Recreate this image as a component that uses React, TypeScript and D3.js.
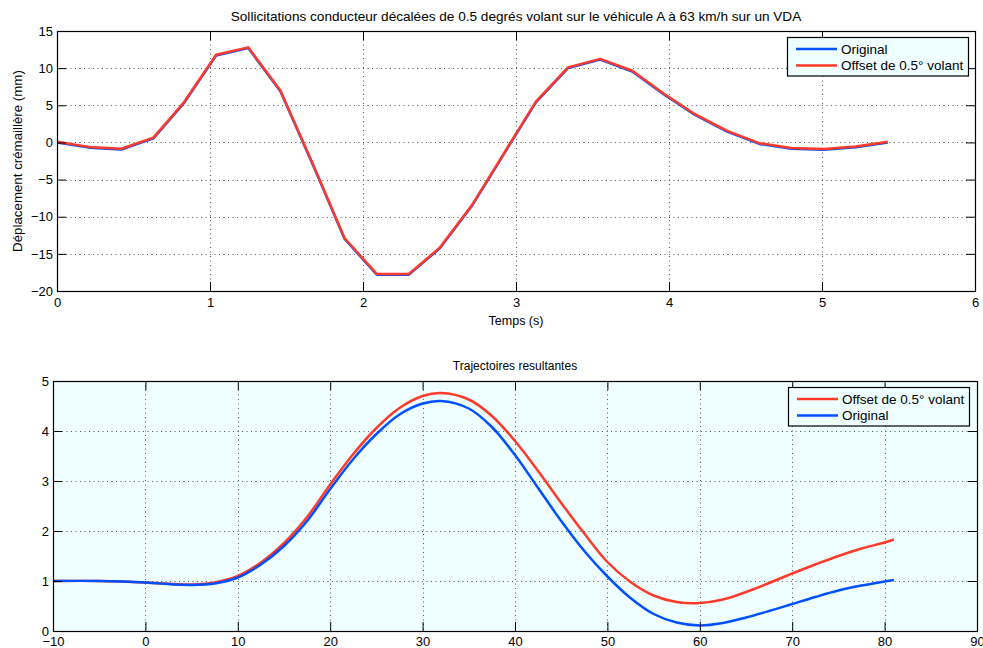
import React, { useEffect, useRef } from "react";
import * as d3 from "d3";

// top panel: rack displacement vs time
const TIME = [0, 0.21, 0.42, 0.63, 0.83, 1.04, 1.25, 1.46, 1.67, 1.88, 2.09, 2.3, 2.5, 2.71,
  2.92, 3.13, 3.34, 3.55, 3.76, 3.96, 4.17, 4.38, 4.59, 4.8, 5.01, 5.22, 5.43];
const RACK_ORIGINAL = [0, -0.7, -0.95, 0.55, 5.3, 11.7, 12.7, 6.9, -2.9, -13.0, -17.8, -17.8, -14.3,
  -8.6, -1.6, 5.4, 10.0, 11.15, 9.55, 6.55, 3.7, 1.45, -0.2, -0.85, -1.0, -0.65, 0.0];
const RACK_OFFSET = [0.08, -0.6, -0.85, 0.65, 5.4, 11.8, 12.8, 7.0, -2.8, -12.9, -17.7, -17.7, -14.2,
  -8.5, -1.5, 5.5, 10.1, 11.25, 9.65, 6.65, 3.8, 1.55, -0.1, -0.75, -0.9, -0.55, 0.08];

// bottom panel: resulting trajectories
const TRAJ_X = [-10, -5, 0, 3, 5, 7.5, 10, 12.5, 15, 17.5, 20, 22.5, 25, 27.5, 30, 32, 35, 37.5, 40,
  42.5, 45, 47.5, 50, 52.5, 55, 57.5, 60, 62.5, 65, 67.5, 70, 72.5, 75, 77.5, 80, 81];
const TRAJ_ORIGINAL = [1.0, 1.0, 0.97, 0.93, 0.92, 0.95, 1.07, 1.33, 1.7, 2.2, 2.84, 3.44, 3.94, 4.33,
  4.55, 4.6, 4.45, 4.08, 3.52, 2.86, 2.2, 1.6, 1.09, 0.66, 0.34, 0.17, 0.11, 0.16, 0.27, 0.4, 0.54,
  0.68, 0.81, 0.91, 0.99, 1.02];
const TRAJ_OFFSET = [1.0, 1.0, 0.97, 0.94, 0.93, 0.97, 1.1, 1.37, 1.76, 2.28, 2.93, 3.54, 4.06, 4.46,
  4.7, 4.76, 4.63, 4.3, 3.8, 3.2, 2.56, 1.95, 1.38, 0.98, 0.71, 0.58, 0.56, 0.63, 0.78, 0.96, 1.15,
  1.33, 1.5, 1.65, 1.77, 1.83];

const TOP_X_TICKS = [0, 1, 2, 3, 4, 5, 6];
const TOP_Y_TICKS = [-20, -15, -10, -5, 0, 5, 10, 15];
const BOT_X_TICKS = [-10, 0, 10, 20, 30, 40, 50, 60, 70, 80, 90];
const BOT_Y_TICKS = [0, 1, 2, 3, 4, 5];

const BLUE = "#0050ff";
const RED = "#ff3a2a";
const FONT = "'Liberation Sans', Arial, Helvetica, sans-serif";

type Panel = {
  left: number; top: number; width: number; height: number;
  xDomain: [number, number]; yDomain: [number, number];
  xTicks: number[]; yTicks: number[]; bg: string; xPad: number;
};

function drawPanel(svg: any, p: Panel)
{
  const x = d3.scaleLinear().domain(p.xDomain).range([p.left, p.left + p.width]);
  const y = d3.scaleLinear().domain(p.yDomain).range([p.top + p.height, p.top]);

  svg.append("rect")
    .attr("x", p.left).attr("y", p.top)
    .attr("width", p.width).attr("height", p.height)
    .attr("fill", p.bg);

  // dotted grid
  const grid = svg.append("g").attr("stroke", "#555").attr("stroke-width", 1)
    .attr("stroke-dasharray", "1,3.5");
  grid.selectAll(".gx").data(p.xTicks).enter().append("line")
    .attr("x1", (d: number) => Math.round(x(d)) + 0.5).attr("x2", (d: number) => Math.round(x(d)) + 0.5)
    .attr("y1", p.top).attr("y2", p.top + p.height);
  grid.selectAll(".gy").data(p.yTicks).enter().append("line")
    .attr("y1", (d: number) => Math.round(y(d)) + 0.5).attr("y2", (d: number) => Math.round(y(d)) + 0.5)
    .attr("x1", p.left).attr("x2", p.left + p.width);

  return { x, y };
}

function drawAxes(svg: any, p: Panel, x: any, y: any)
{
  const fmt = d3.format("d");
  const styleAxis = (g: any) => {
    g.select(".domain").remove();
    g.selectAll("line").attr("stroke", "#000");
    g.selectAll("text").attr("fill", "#000").style("font-family", FONT).style("font-size", "13px");
  };

  svg.append("g")
    .attr("transform", `translate(0, ${p.top + p.height})`)
    .call(d3.axisBottom(x).tickValues(p.xTicks).tickFormat(fmt).tickSizeInner(-9).tickSizeOuter(0).tickPadding(p.xPad))
    .call(styleAxis);
  svg.append("g")
    .attr("transform", `translate(0, ${p.top})`)
    .call(d3.axisTop(x).tickValues(p.xTicks).tickSizeInner(-9).tickSizeOuter(0).tickFormat(() => ""))
    .call(styleAxis);
  svg.append("g")
    .attr("transform", `translate(${p.left}, 0)`)
    .call(d3.axisLeft(y).tickValues(p.yTicks).tickFormat(fmt).tickSizeInner(-9).tickSizeOuter(0).tickPadding(4))
    .call(styleAxis);
  svg.append("g")
    .attr("transform", `translate(${p.left + p.width}, 0)`)
    .call(d3.axisRight(y).tickValues(p.yTicks).tickSizeInner(-9).tickSizeOuter(0).tickFormat(() => ""))
    .call(styleAxis);

  svg.append("rect")
    .attr("x", p.left + 0.5).attr("y", p.top + 0.5)
    .attr("width", p.width).attr("height", p.height)
    .attr("fill", "none").attr("stroke", "#000").attr("stroke-width", 1.2);
}

function drawLegend(svg: any, left: number, top: number, items: { label: string; color: string }[])
{
  const g = svg.append("g");
  g.append("rect")
    .attr("x", left + 0.5).attr("y", top + 0.5)
    .attr("width", 181).attr("height", 38.5)
    .attr("fill", "#efffff").attr("stroke", "#000").attr("stroke-width", 1.2);
  items.forEach((it, i) => {
    const cy = top + 12 + i * 16.5;
    g.append("line")
      .attr("x1", left + 9).attr("x2", left + 50)
      .attr("y1", cy).attr("y2", cy)
      .attr("stroke", it.color).attr("stroke-width", 2.5);
    g.append("text")
      .attr("x", left + 54).attr("y", cy + 4.8)
      .style("font-family", FONT).style("font-size", "13.5px")
      .text(it.label);
  });
}

function App()
{
  const ref = useRef<SVGSVGElement>(null);

  useEffect(() => {
    const svg = d3.select(ref.current);
    svg.selectAll("*").remove();

    // ---- top panel
    const topP: Panel = {
      left: 57, top: 31, width: 918, height: 260,
      xDomain: [0, 6], yDomain: [-20, 15],
      xTicks: TOP_X_TICKS, yTicks: TOP_Y_TICKS, bg: "#fff", xPad: 7
    };
    const t = drawPanel(svg, topP);
    const rackLine = (vals: number[]) => d3.line<number>()
      .x((_, i) => t.x(TIME[i]))
      .y(d => t.y(d))(vals);
    svg.append("path").attr("d", rackLine(RACK_ORIGINAL))
      .attr("fill", "none").attr("stroke", BLUE).attr("stroke-width", 2.5).attr("stroke-linejoin", "round");
    svg.append("path").attr("d", rackLine(RACK_OFFSET))
      .attr("fill", "none").attr("stroke", RED).attr("stroke-width", 2.5).attr("stroke-linejoin", "round");
    drawAxes(svg, topP, t.x, t.y);
    drawLegend(svg, 787, 37, [
      { label: "Original", color: BLUE },
      { label: "Offset de 0.5° volant", color: RED }
    ]);

    svg.append("text")
      .attr("x", 516).attr("y", 21).attr("text-anchor", "middle")
      .style("font-family", FONT).style("font-size", "13.6px")
      .text("Sollicitations conducteur décalées de 0.5 degrés volant sur le véhicule A à 63 km/h sur un VDA");
    svg.append("text")
      .attr("x", 516).attr("y", 325).attr("text-anchor", "middle")
      .style("font-family", FONT).style("font-size", "12.5px")
      .text("Temps (s)");
    svg.append("text")
      .attr("transform", `translate(21.5, 161) rotate(-90)`)
      .attr("text-anchor", "middle")
      .style("font-family", FONT).style("font-size", "13.3px")
      .text("Déplacement crémaillère (mm)");

    // ---- bottom panel
    const botP: Panel = {
      left: 53, top: 381, width: 924, height: 250,
      xDomain: [-10, 90], yDomain: [0, 5],
      xTicks: BOT_X_TICKS, yTicks: BOT_Y_TICKS, bg: "#efffff", xPad: 6
    };
    const b = drawPanel(svg, botP);
    const trajLine = (vals: number[]) => d3.line<number>()
      .curve(d3.curveCatmullRom)
      .x((_, i) => b.x(TRAJ_X[i]))
      .y(d => b.y(d))(vals);
    svg.append("path").attr("d", trajLine(TRAJ_OFFSET))
      .attr("fill", "none").attr("stroke", RED).attr("stroke-width", 2.5);
    svg.append("path").attr("d", trajLine(TRAJ_ORIGINAL))
      .attr("fill", "none").attr("stroke", BLUE).attr("stroke-width", 2.5);
    drawAxes(svg, botP, b.x, b.y);
    drawLegend(svg, 788, 387, [
      { label: "Offset de 0.5° volant", color: RED },
      { label: "Original", color: BLUE }
    ]);

    svg.append("text")
      .attr("x", 515).attr("y", 370).attr("text-anchor", "middle")
      .style("font-family", FONT).style("font-size", "12px")
      .text("Trajectoires resultantes");
  }, []);

  return (
    <svg ref={ref} width={983} height={648}
      style={{ position: "absolute", left: 0, top: 0, background: "#fff" }} />
  );
}

export default App;
